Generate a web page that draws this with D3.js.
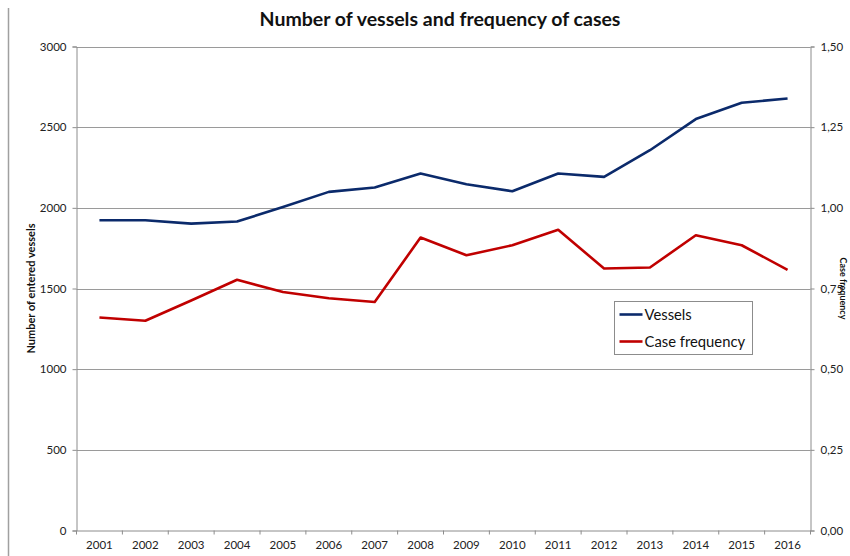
<!DOCTYPE html>
<html>
<head>
<meta charset="utf-8">
<script src="https://cdn.jsdelivr.net/npm/d3@7/dist/d3.min.js"></script>
<style>
  html, body { margin: 0; padding: 0; background: #fff; }
  svg { display: block; }
  text { font-family: Lato, "Open Sans", sans-serif; }
</style>
</head>
<body>
<svg id="chart" width="850" height="556"></svg>
<script>
// Years on the category axis
const years = ["2001","2002","2003","2004","2005","2006","2007","2008",
               "2009","2010","2011","2012","2013","2014","2015","2016"];
// Number of entered vessels per year (left axis)
const vessels = [1923, 1923, 1902, 1915, 2005, 2099, 2126, 2213,
                 2146, 2103, 2213, 2192, 2357, 2550, 2651, 2678];
// Case frequency per year (right axis)
const caseFrequency = [0.660, 0.650, 0.713, 0.777, 0.739, 0.720, 0.708, 0.908,
                       0.853, 0.884, 0.932, 0.812, 0.815, 0.915, 0.884, 0.808];
// Tick values of the two value axes
const leftTicks = [0, 500, 1000, 1500, 2000, 2500, 3000];
const rightTicks = [0, 0.25, 0.5, 0.75, 1.0, 1.25, 1.5];

const svg = d3.select("#chart");
const plot = { left: 76.5, right: 810.5, top: 46.5, bottom: 530.5 };
const axisColor = "#8c8c8c";
const gridColor = "#9a9a9a";

const x = d3.scaleBand().domain(years).range([plot.left, plot.right]).padding(0);
const yLeft = d3.scaleLinear().domain([0, 3000]).range([plot.bottom, plot.top]);
const yRight = d3.scaleLinear().domain([0, 1.5]).range([plot.bottom, plot.top]);

// Frame line on the left edge
svg.append("line")
  .attr("x1", 8.5).attr("x2", 8.5).attr("y1", 8).attr("y2", 556)
  .attr("stroke", "#a0a0a0").attr("stroke-width", 1.5);

// Title
svg.append("text")
  .attr("x", 440).attr("y", 26)
  .attr("text-anchor", "middle")
  .attr("font-size", 19.5).attr("font-weight", "bold")
  .attr("fill", "#111")
  .text("Number of vessels and frequency of cases");

// Horizontal gridlines
svg.append("g")
  .selectAll("line")
  .data(leftTicks.filter(d => d > 0))
  .join("line")
  .attr("x1", plot.left).attr("x2", plot.right)
  .attr("y1", d => Math.round(yLeft(d)) + 0.5).attr("y2", d => Math.round(yLeft(d)) + 0.5)
  .attr("stroke", gridColor).attr("stroke-width", 1);

// Left axis
const gLeft = svg.append("g")
  .attr("transform", `translate(${plot.left},0)`)
  .call(d3.axisLeft(yLeft).tickValues(leftTicks).tickSize(4).tickPadding(6).tickFormat(d3.format("d")));
// Right axis
const gRight = svg.append("g")
  .attr("transform", `translate(${plot.right},0)`)
  .call(d3.axisRight(yRight).tickValues(rightTicks).tickSize(4).tickPadding(6)
    .tickFormat(d => d3.format(".2f")(d).replace(".", ",")));
// Bottom axis with ticks at the category boundaries
const gBottom = svg.append("g")
  .attr("transform", `translate(0,${plot.bottom})`)
  .call(d3.axisBottom(x).tickSize(0).tickPadding(10));
gBottom.selectAll(".boundary")
  .data(years.concat(["end"]))
  .join("line")
  .attr("class", "boundary")
  .attr("x1", (d, i) => plot.left + i * x.bandwidth())
  .attr("x2", (d, i) => plot.left + i * x.bandwidth())
  .attr("y1", 0).attr("y2", 4)
  .attr("stroke", axisColor);

[gLeft, gRight, gBottom].forEach(g => {
  g.select(".domain").attr("stroke", axisColor).attr("stroke-width", 1);
  g.selectAll(".tick line").attr("stroke", axisColor);
  g.selectAll(".tick text").attr("fill", "#222").attr("font-size", 11.5)
    .style("font-family", "Lato, 'Open Sans', sans-serif");
});

// Axis titles
svg.append("text")
  .attr("transform", `translate(35,${(plot.top + plot.bottom) / 2}) rotate(-90)`)
  .attr("text-anchor", "middle")
  .attr("font-size", 11).attr("font-weight", "bold").attr("fill", "#111")
  .text("Number of entered vessels");
svg.append("text")
  .attr("transform", `translate(840,${(plot.top + plot.bottom) / 2}) rotate(90)`)
  .attr("text-anchor", "middle")
  .attr("font-size", 9).attr("font-weight", "bold").attr("fill", "#111")
  .text("Case frequency");

// Series lines
const lineLeft = d3.line().x((d, i) => x(years[i]) + x.bandwidth() / 2).y(d => yLeft(d));
const lineRight = d3.line().x((d, i) => x(years[i]) + x.bandwidth() / 2).y(d => yRight(d));

svg.append("path")
  .datum(vessels)
  .attr("d", lineLeft)
  .attr("fill", "none").attr("stroke", "#0b2a6b").attr("stroke-width", 2.6)
  .attr("stroke-linejoin", "round");
svg.append("path")
  .datum(caseFrequency)
  .attr("d", lineRight)
  .attr("fill", "none").attr("stroke", "#c00000").attr("stroke-width", 2.6)
  .attr("stroke-linejoin", "round");

// Legend
const legend = svg.append("g").attr("transform", "translate(614.5,301.5)");
legend.append("rect")
  .attr("width", 138).attr("height", 53)
  .attr("fill", "#fff").attr("stroke", "#8c8c8c");
const legendItems = [
  { label: "Vessels", color: "#0b2a6b" },
  { label: "Case frequency", color: "#c00000" }
];
legendItems.forEach((item, i) => {
  const yy = 13 + i * 27;
  legend.append("line")
    .attr("x1", 5).attr("x2", 28).attr("y1", yy).attr("y2", yy)
    .attr("stroke", item.color).attr("stroke-width", 2.6);
  legend.append("text")
    .attr("x", 30).attr("y", yy + 5)
    .attr("font-size", 14.8).attr("fill", "#111")
    .text(item.label);
});
</script>
</body>
</html>
